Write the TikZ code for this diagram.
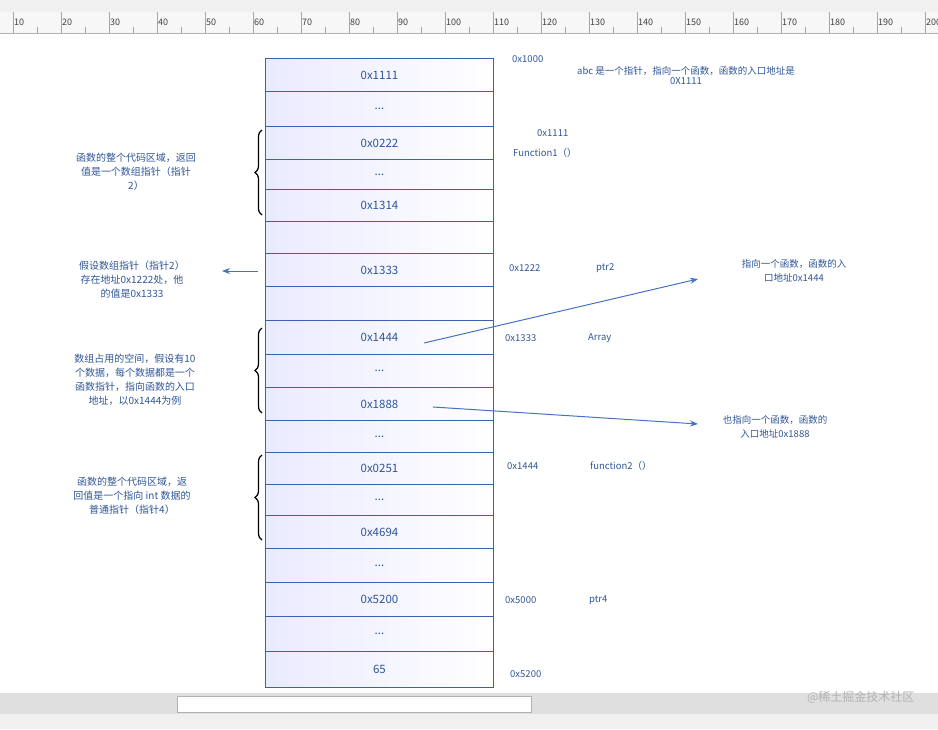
\documentclass[tikz,border=0pt]{standalone}
\usepackage{fontspec}
\setmainfont{Noto Sans CJK SC}
\usetikzlibrary{decorations.pathreplacing,arrows.meta}
\definecolor{tb}{HTML}{2F5597}
\definecolor{cellb}{HTML}{3A62B0}
\definecolor{ar}{HTML}{4472C4}
\colorlet{cellfill}{blue!8}
\newcommand\mydots{...}
\newcommand\myempty{}
\tikzset{
 cell/.style={draw=cellb,line width=0.9pt,left color=cellfill,right color=white,minimum width=228pt,inner sep=0pt,text=tb,font=\fontsize{11.5}{12}\selectfont},
 note/.style={text=tb,font=\fontsize{10}{14}\selectfont,align=center,inner sep=0pt},
 lab/.style={text=tb,font=\fontsize{9.5}{12}\selectfont,anchor=west,inner sep=0pt},
 brc/.style={decorate,decoration={brace,amplitude=7pt},line width=1.2pt},
 arr/.style={draw=ar,line width=1pt,-{Stealth[length=8pt,width=6pt]}}
}
\begin{document}
\begin{tikzpicture}[x=1pt,y=-1pt]
\useasboundingbox (0,0) rectangle (938,729);
\fill[gray!12] (0,0) rectangle (938,12);
\fill[gray!6] (0,12) rectangle (938,33);
\draw[gray!60] (0,33) -- (938,33);
\foreach \i in {0,1,2,3,4,5,6,7,8,9,10,11,12,13,14,15,16,17,18,19}{
 \pgfmathtruncatemacro\n{10*(\i+1)}
 \draw[gray!70] ({13+48*\i},12) -- ({13+48*\i},33);
 \draw[gray!70] ({37+48*\i},27) -- ({37+48*\i},33);
 \node[anchor=west,inner sep=1pt,font=\fontsize{9}{10}\selectfont,text=black!75] (r\i) at ({13+48*\i},22) {\n};
}
\fill[gray!25] (0,693) rectangle (938,714);
\fill[gray!12] (0,714) rectangle (938,729);
\draw[gray!60,fill=white] (177,696) rectangle (531,712);
\node[anchor=east,text=gray!60,font=\fontsize{12}{12}\selectfont] (wm) at (918,697) {@稀土掘金技术社区};
% cells
\def\ys{{58,91,126,159,189,221,253,286,320,354,387,420,452,484,515,548,582,616,651,687}}
\foreach \t [count=\k from 0] in {0x1111,\mydots,0x0222,\mydots,0x1314,\myempty,0x1333,\myempty,0x1444,\mydots,0x1888,\mydots,0x0251,\mydots,0x4694,\mydots,0x5200,\mydots,65}{
 \pgfmathsetmacro\ya{\ys[\k]}
 \pgfmathsetmacro\hh{\ys[\k+1]-\ys[\k]}
 \node[cell,minimum height=\hh pt,anchor=north west] (c\k) at (265,\ya) {\t};
}
% right labels
\node[lab] (l1) at (512,59) {0x1000};
\node[lab,anchor=north,align=center] (l2) at (686,66) {abc 是一个指针，指向一个函数，函数的入口地址是\\[-2pt]0X1111};
\node[lab] (l3) at (537,133) {0x1111};
\node[lab] (l4) at (513,153) {Function1（）};
\node[lab] (l5) at (509,268) {0x1222};
\node[lab] (l6) at (596,268) {ptr2};
\node[lab] (l7) at (505,338) {0x1333};
\node[lab] (l8) at (588,338) {Array};
\node[lab] (l9) at (507,466) {0x1444};
\node[lab] (l10) at (590,466) {function2（）};
\node[lab] (l11) at (505,600) {0x5000};
\node[lab] (l12) at (589,600) {ptr4};
\node[lab] (l13) at (510,674) {0x5200};
\node[note,font=\fontsize{9.5}{14}\selectfont] (n5) at (794,271) {指向一个函数，函数的入\\口地址0x1444};
\node[note,font=\fontsize{9.5}{14}\selectfont] (n6) at (775,427) {也指向一个函数，函数的\\入口地址0x1888};
% left notes
\node[note] (n1) at (136,172) {函数的整个代码区域，返回\\值是一个数组指针（指针\\2）};
\node[note] (n2) at (132,280) {假设数组指针（指针2）\\存在地址0x1222处，他\\的值是0x1333};
\node[note] (n3) at (135,380) {数组占用的空间，假设有10\\个数据，每个数据都是一个\\函数指针，指向函数的入口\\地址，以0x1444为例};
\node[note] (n4) at (132,496) {函数的整个代码区域，返\\回值是一个指向 int 数据的\\普通指针（指针4）};
% braces
\draw[brc] (262,215) -- (262,130);
\draw[brc] (262,413) -- (262,328);
\draw[brc] (262,540) -- (262,455);
% arrows
\coordinate (a0) at (258,271);
\coordinate (a1) at (222,271);
\draw[arr] (a0) -- (a1);
\coordinate (p1) at (424,343);
\coordinate (q1) at (698,279);
\draw[arr] (p1) -- (q1);
\coordinate (p2) at (433,407);
\coordinate (q2) at (698,424);
\draw[arr] (p2) -- (q2);
\end{tikzpicture}
\end{document}
